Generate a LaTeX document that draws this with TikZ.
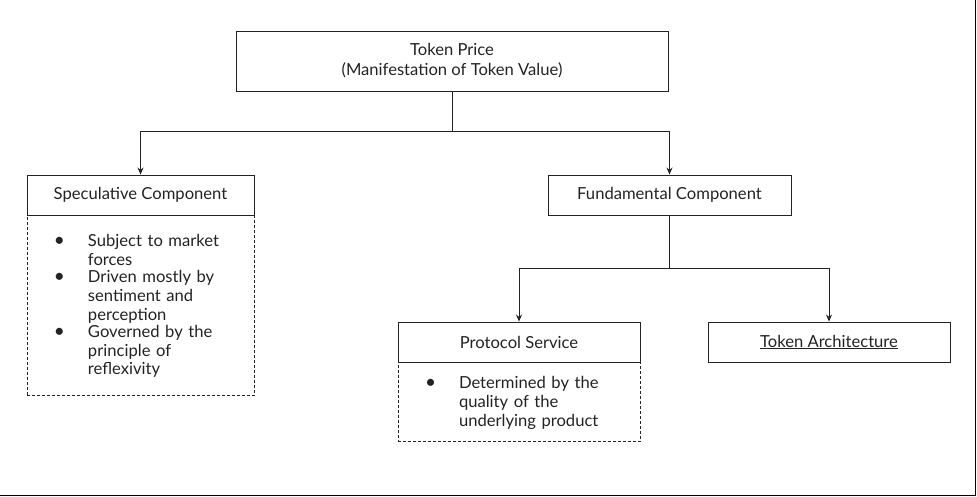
\documentclass[tikz,border=0pt]{standalone}
\usepackage{fontspec}
\setmainfont{Lato}
\usetikzlibrary{arrows.meta,calc}
\definecolor{inkgray}{RGB}{35,35,35}
\tikzset{
  box-solid/.style={
    draw=inkgray,
    line width=0.9pt,
    minimum height=40pt,
    inner sep=0pt,
    text=inkgray,
    font=\fontsize{16.6}{20}\selectfont
  },
  box-dashed/.style={
    draw=inkgray,
    line width=0.9pt,
    dash pattern=on 3pt off 2pt,
    inner sep=0pt,
    anchor=north west,
    text width=227pt,
    align=left,
    text=inkgray,
    font=\fontsize{16.6}{18.7}\selectfont
  },
  link/.style={draw=inkgray, line width=0.9pt},
  link-arrow/.style={link, -{Stealth[length=7pt,width=6pt]}}
}
\newcommand{\bulletline}[1]{\noindent\hspace*{27pt}\makebox[34pt][l]{\fontsize{19}{18.7}\selectfont\textbullet}\parbox[t]{160pt}{\raggedright\strut #1\strut}\par\vspace{-2.4pt}}

\begin{document}
\begin{tikzpicture}[x=1pt,y=-1pt]
  \useasboundingbox (0,0) rectangle (977,497);
  % outer frame (right and bottom only)
  \draw[line width=1.6pt] (0,495.5) -- (975.5,495.5) -- (975.5,0);
  % boxes
  \node[box-solid, minimum width=432pt, minimum height=60pt, align=center] (price) at (452,61)
    {Token Price\\(Manifestation of Token Value)};
  \node[box-solid, minimum width=227pt] (spec) at (140.5,195) {Speculative Component};
  \node[box-solid, minimum width=243pt] (fund) at (669.5,195) {Fundamental Component};
  \node[box-solid, minimum width=242pt] (proto) at (519,342) {Protocol Service};
  \node[box-solid, minimum width=242pt] (arch) at (829,342) {\underline{Token Architecture}};
  % bullet lists
  \node[box-dashed, minimum height=180pt] (specnotes) at (spec.south west) {%
    \bulletline{Subject to market\\forces}
    \bulletline{Driven mostly by\\sentiment and\\perception}
    \bulletline{Governed by the\\principle of\\reflexivity}};
  \node[box-dashed, minimum height=79pt, text width=242pt] (protonotes) at (proto.south west) {%
    \bulletline{Determined by the\\quality of the\\underlying product}};
  % connectors
  \coordinate (split-top) at ($(price.south)+(0,40)$);
  \coordinate (split-fund) at ($(fund.south)+(0,53)$);
  \draw[link] (price.south) -- (split-top);
  \draw[link-arrow] (split-top) -| (spec.north);
  \draw[link-arrow] (split-top) -| (fund.north);
  \draw[link] (fund.south) -- (split-fund);
  \draw[link-arrow] (split-fund) -| (proto.north);
  \draw[link-arrow] (split-fund) -| (arch.north);
\end{tikzpicture}
\end{document}
